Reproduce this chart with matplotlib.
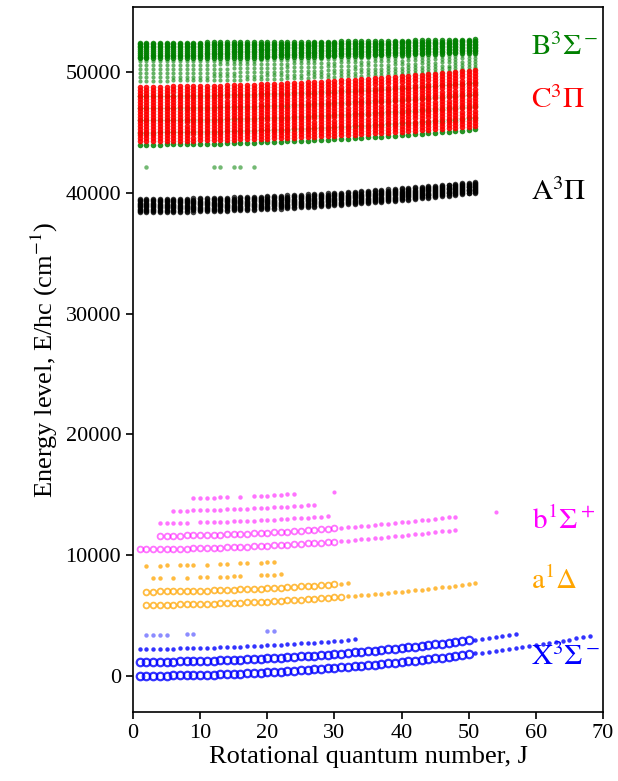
import numpy as np
import matplotlib.pyplot as plt

plt.rcParams['font.family'] = 'Liberation Serif'
plt.rcParams['mathtext.fontset'] = 'stix'


def js(a, b):
    # integer J values a..b inclusive
    return list(range(a, b + 1))


# X3Sigma- : band origin T (cm-1), rotational constant B (cm-1), J values
x3s_T = [0, 1150, 2230, 3380]
x3s_B = [0.70, 0.70, 0.70, 0.70]
x3s_J = [js(1, 68), js(1, 57), js(1, 33), [2, 3, 4, 5, 8, 9, 20, 21]]
x3s_open_to = [50, 50, 0, 0]

# a1Delta
a1d_T = [5873, 6976, 8077, 9125]
a1d_B = [0.67, 0.66, 0.67, 0.67]
a1d_J = [js(2, 51), js(2, 32),
         [3, 4, 6, 8, 10, 11, 13, 14, 15, 16, 19, 20, 21, 22],
         [2, 4, 5, 7, 8, 9, 11, 13, 14, 16, 17, 19, 20, 21]]
a1d_open_to = [31, 30, 0, 0]

# b1Sigma+
b1s_T = [10489, 11576, 12630, 13640, 14650]
b1s_B = [0.68, 0.686, 0.68, 0.68, 0.68]
b1s_J = [js(1, 48), js(4, 48), js(4, 8) + js(10, 29), js(6, 27),
         js(9, 14) + [16] + js(18, 24)]
b1s_open_to = [30, 30, 0, 0, 0]
b1s_extra_J = [30, 54]
b1s_extra_E = [15260, 13600]

# A3Pi
a3p_T = [38400, 38500, 38600, 38700, 38800, 38900, 39000, 39100, 39200, 39300, 39400, 39500]
a3p_B = [0.61, 0.60, 0.60, 0.59, 0.58, 0.57, 0.57, 0.56, 0.55, 0.54, 0.54, 0.53]
a3p_J = js(1, 51)

# C3Pi
c3p_T = [44300, 44550, 44800, 45050, 45300, 45550, 45800, 46050, 46300, 46550,
         46800, 47050, 47300, 47550, 47800, 48050, 48300, 48550, 48800]
c3p_B = [0.47, 0.47, 0.47, 0.48, 0.48, 0.48, 0.49, 0.49, 0.49, 0.49,
         0.50, 0.50, 0.50, 0.51, 0.51, 0.51, 0.52, 0.52, 0.52]
c3p_J = js(1, 51)

# B3Sigma-
b3s_T = [44000, 45000, 46000, 47000, 48000,
         49300, 49600, 49900, 50250, 50600, 50900,
         51150, 51300, 51450, 51600, 51750, 51900, 52050, 52200, 52300, 52450]
b3s_B = [0.475, 0.46, 0.45, 0.44, 0.42,
         0.35, 0.32, 0.29, 0.26, 0.22, 0.20,
         0.18, 0.17, 0.16, 0.15, 0.14, 0.13, 0.12, 0.11, 0.105, 0.10]
b3s_sparse = [False] * 5 + [True] * 6 + [False] * 10
b3s_J = js(1, 51)
b3s_extra_J = [2, 12, 13, 15, 16, 18]
b3s_extra_E = [42160, 42160, 42160, 42160, 42160, 42160]


def energy(T, B, J):
    J = np.asarray(J, dtype=float)
    return J, T + B * J * (J + 1)


fig = plt.figure(figsize=(6.18, 7.81), dpi=100)
ax = fig.add_axes([0.2152, 0.0883, 0.7605, 0.9027])

# dense upper states
for T, B, sp in zip(b3s_T, b3s_B, b3s_sparse):
    J, E = energy(T, B, b3s_J)
    ax.plot(J, E, 'o', color='green', ms=3.0 if sp else 4.0, mew=0,
            alpha=0.6 if sp else 0.85)
ax.plot(b3s_extra_J, b3s_extra_E, 'o', color='green', ms=3.2, mew=0, alpha=0.55)
for T, B in zip(c3p_T, c3p_B):
    J, E = energy(T, B, c3p_J)
    ax.plot(J, E, 'o', color='red', ms=4.0, mew=0, alpha=0.9)
for T, B in zip(a3p_T, a3p_B):
    J, E = energy(T, B, a3p_J)
    ax.plot(J, E, 'o', color='black', ms=4.0, mew=0, alpha=0.75)


def sparse_state(Ts, Bs, Js, open_to, color, alpha, ms_open, mew_open, ms_dot):
    for T, B, Jl, lim in zip(Ts, Bs, Js, open_to):
        J, E = energy(T, B, Jl)
        m = J <= lim
        ax.plot(J[m], E[m], 'o', mfc='none', mec=color, ms=ms_open,
                mew=mew_open, alpha=alpha)
        ax.plot(J[~m], E[~m], 'o', color=color, ms=ms_dot, mew=0, alpha=alpha)


sparse_state(b1s_T, b1s_B, b1s_J, b1s_open_to, 'magenta', 0.55, 4.2, 1.3, 3.2)
ax.plot(b1s_extra_J, b1s_extra_E, 'o', color='magenta', ms=3.0, mew=0, alpha=0.55)
sparse_state(a1d_T, a1d_B, a1d_J, a1d_open_to, 'orange', 0.75, 4.2, 1.3, 3.2)
sparse_state(x3s_T[:3], x3s_B[:3], x3s_J[:3], x3s_open_to[:3], 'blue', 0.8, 5.4, 1.6, 3.2)
J, E = energy(x3s_T[3], x3s_B[3], x3s_J[3])
ax.plot(J, E, 'o', color='blue', ms=3.2, mew=0, alpha=0.45)

# state labels
lab = dict(fontsize=21, ha='left', va='center')
ax.text(59.3, 52100, r'$\mathrm{B^3\Sigma^-}$', color='green', **lab)
ax.text(59.3, 47700, r'$\mathrm{C^3\Pi}$', color='red', **lab)
ax.text(59.3, 40100, r'$\mathrm{A^3\Pi}$', color='black', **lab)
ax.text(59.5, 12800, r'$\mathrm{b^1\Sigma^+}$', color='magenta', **lab)
ax.text(59.3, 7900, r'$\mathrm{a^1\Delta}$', color='orange', **lab)
ax.text(59.3, 1550, r'$\mathrm{X^3\Sigma^-}$', color='blue', **lab)

ax.set_xlim(0, 70)
ax.set_ylim(-3000, 55400)
ax.set_xticks(range(0, 71, 10))
ax.set_yticks(range(0, 50001, 10000))
ax.tick_params(labelsize=16, width=1.2, length=5)
for s in ax.spines.values():
    s.set_linewidth(1.2)
ax.set_xlabel('Rotational quantum number, J', fontsize=19, labelpad=2)
ax.set_ylabel('Energy level, E/hc (cm$^{-1}$)', fontsize=19)

fig.savefig('out.png', dpi=100)
